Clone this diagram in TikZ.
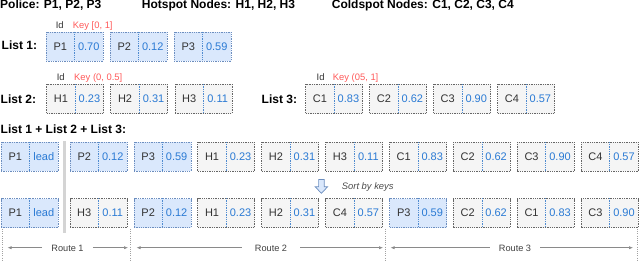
\documentclass[tikz,border=0pt]{standalone}
\usepackage{fontspec}
\setmainfont{Liberation Sans}
\usetikzlibrary{calc,arrows.meta}
\definecolor{bluefill}{HTML}{DAE8FC}
\definecolor{blueline}{HTML}{6C8EBF}
\definecolor{grayfill}{HTML}{F5F5F5}
\definecolor{grayline}{HTML}{666666}
\definecolor{divcol}{HTML}{4F8BD0}
\definecolor{keycol}{HTML}{2A7AD4}
\definecolor{idcol}{HTML}{333333}
\definecolor{redkey}{HTML}{FF5A5A}
\definecolor{barcol}{HTML}{D4D4D4}
\definecolor{routecol}{HTML}{8A8A8A}
\newcommand\mycell[6]{%
  \node[#4] (#1) at (#2,#3) {};
  \node[idtxt] (#1i) at ($(#1.center)+(-14.25,0)$) {#5};
  \node[keytxt] (#1k) at ($(#1.center)+(14.25,0)$) {#6};
  \draw[divline] (#1.north) -- (#1.south);
}
\begin{document}
\begin{tikzpicture}[x=1pt,y=-1pt,
  cellbase/.style={minimum width=57pt,minimum height=29pt,inner sep=0pt,line width=0.8pt,dash pattern=on 1.3pt off 1pt},
  bcell/.style={cellbase,draw=blueline,fill=bluefill},
  gcell/.style={cellbase,draw=grayline,fill=grayfill},
  divline/.style={draw=divcol,line width=0.8pt,dash pattern=on 1.3pt off 1pt},
  idtxt/.style={font=\fontsize{11}{13}\selectfont,text=idcol,text height=7.9pt,text depth=0pt,inner sep=0pt},
  keytxt/.style={font=\fontsize{11}{13}\selectfont,text=keycol,text height=7.9pt,text depth=0pt,inner sep=0pt},
  title/.style={font=\fontsize{12}{14}\selectfont\bfseries,text=black,anchor=base west,inner sep=0pt},
  small/.style={font=\fontsize{9.4}{11}\selectfont,anchor=base west,inner sep=0pt},
  routelbl/.style={font=\fontsize{9.2}{11}\selectfont,text=black!75,inner ysep=0pt,inner xsep=9pt,anchor=base},
  routearrow/.style={draw=routecol,line width=0.6pt,-{Latex[length=4pt,width=3.2pt]}},
  sepline/.style={draw=routecol!80,line width=0.7pt,dash pattern=on 1pt off 1.2pt}
]
\useasboundingbox (0,0) rectangle (640,262);

% titles
\node[title] (t1) at (0,8.7) {Police: P1, P2, P3};
\node[title] (t2) at (141.7,8.7) {Hotspot Nodes: H1, H2, H3};
\node[title] (t3) at (331.7,8.7) {Coldspot Nodes: C1, C2, C3, C4};

% List 1
\node[small,text=idcol] (id1) at (55.6,28.3) {Id};
\node[small,text=redkey] (k1) at (72.7,28.3) {Key [0, 1]};
\node[title] (l1) at (1.5,50) {List 1:};
\mycell{ap1}{74.5}{46.5}{bcell}{P1}{0.70}
\mycell{ap2}{138.5}{46.5}{bcell}{P2}{0.12}
\mycell{ap3}{202.5}{46.5}{bcell}{P3}{0.59}

% List 2
\node[small,text=idcol] (id2) at (56.6,81) {Id};
\node[small,text=redkey] (k2) at (74,81) {Key (0, 0.5]};
\node[title] (l2) at (0.5,103.3) {List 2:};
\mycell{bh1}{75.2}{99}{gcell}{H1}{0.23}
\mycell{bh2}{139.3}{99}{gcell}{H2}{0.31}
\mycell{bh3}{203.4}{99}{gcell}{H3}{0.11}

% List 3
\node[small,text=idcol] (id3) at (316.5,81) {Id};
\node[small,text=redkey] (k3) at (332.7,81) {Key (05, 1]};
\node[title] (l3) at (261.5,103.3) {List 3:};
\mycell{cc1}{334.2}{99}{gcell}{C1}{0.83}
\mycell{cc2}{398.1}{99}{gcell}{C2}{0.62}
\mycell{cc3}{462}{99}{gcell}{C3}{0.90}
\mycell{cc4}{526.1}{99}{gcell}{C4}{0.57}

% combined
\node[title] (l4) at (0.5,133.8) {List 1 + List 2 + List 3:};
\fill[barcol] (62.6,141) rectangle (65.6,233);
\mycell{dp1}{29.5}{156.7}{bcell}{P1}{lead}
\mycell{dp2}{98.5}{156.7}{bcell}{P2}{0.12}
\mycell{dp3}{162.4}{156.7}{bcell}{P3}{0.59}
\mycell{dh1}{226.3}{156.7}{gcell}{H1}{0.23}
\mycell{dh2}{290.2}{156.7}{gcell}{H2}{0.31}
\mycell{dh3}{354.1}{156.7}{gcell}{H3}{0.11}
\mycell{dc1}{418}{156.7}{gcell}{C1}{0.83}
\mycell{dc2}{481.9}{156.7}{gcell}{C2}{0.62}
\mycell{dc3}{545.8}{156.7}{gcell}{C3}{0.90}
\mycell{dc4}{609.7}{156.7}{gcell}{C4}{0.57}

% sort arrow
\filldraw[fill=bluefill,draw=blueline,line width=0.7pt,line join=miter]
  (318.6,179.5) -- (324.2,179.5) -- (324.2,186.8) -- (327.6,186.8) -- (321.4,193.3)
  -- (315.2,186.8) -- (318.6,186.8) -- cycle;
\node[font=\fontsize{9.4}{11}\selectfont\itshape,text=black!70,anchor=base west,inner sep=0pt] (sk) at (341.7,189.3) {Sort by keys};

% sorted
\mycell{ep1}{29.5}{213}{bcell}{P1}{lead}
\mycell{eh3}{98.5}{213}{gcell}{H3}{0.11}
\mycell{ep2}{162.4}{213}{bcell}{P2}{0.12}
\mycell{eh1}{226.3}{213}{gcell}{H1}{0.23}
\mycell{eh2}{290.2}{213}{gcell}{H2}{0.31}
\mycell{ec4}{354.1}{213}{gcell}{C4}{0.57}
\mycell{ep3}{418}{213}{bcell}{P3}{0.59}
\mycell{ec2}{481.9}{213}{gcell}{C2}{0.62}
\mycell{ec1}{545.8}{213}{gcell}{C1}{0.83}
\mycell{ec3}{609.7}{213}{gcell}{C3}{0.90}

% route separators
\draw[sepline] (2.7,229) -- (2.7,262);
\draw[sepline] (130.7,229) -- (130.7,262);
\draw[sepline] (385.7,229) -- (385.7,262);
\draw[sepline] (637,229) -- (637,262);

% routes
\coordinate (r1a) at (7.5,247.7);
\coordinate (r1b) at (128,247.7);
\node[routelbl] (r1) at (67.5,251.5) {Route 1};
\draw[routearrow] (r1.west |- r1a) -- (r1a);
\draw[routearrow] (r1.east |- r1b) -- (r1b);

\coordinate (r2a) at (136.5,247.7);
\coordinate (r2b) at (383,247.7);
\node[routelbl,inner xsep=13pt] (r2) at (271,251.5) {Route 2};
\draw[routearrow] (r2.west |- r2a) -- (r2a);
\draw[routearrow] (r2.east |- r2b) -- (r2b);

\coordinate (r3a) at (390.5,247.7);
\coordinate (r3b) at (633,247.7);
\node[routelbl] (r3) at (515,251.5) {Route 3};
\draw[routearrow] (r3.west |- r3a) -- (r3a);
\draw[routearrow] (r3.east |- r3b) -- (r3b);
\end{tikzpicture}
\end{document}
